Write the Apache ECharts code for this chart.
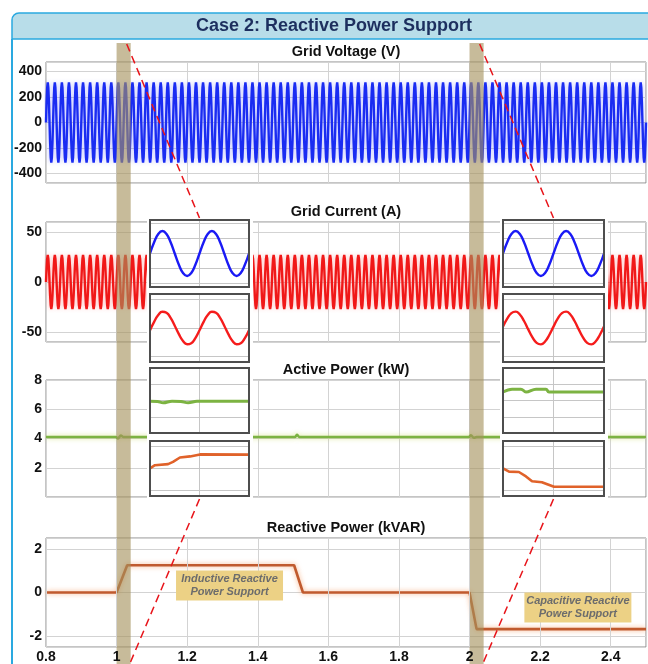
<!DOCTYPE html>
<html>
<head>
<meta charset="utf-8">
<title>Case 2: Reactive Power Support</title>
<script src="https://cdn.jsdelivr.net/npm/echarts@6/dist/echarts.min.js"></script>
<style>
  html, body { margin: 0; padding: 0; background: #fff; }
  #chart { width: 648px; height: 664px; }
</style>
</head>
<body>
<div id="chart"></div>
<script>
// ---------------- data ----------------
const timeRange = [0.8, 2.5];                 // s
const timeStep = 0.2;
const timeTicks = [0.8, 1, 1.2, 1.4, 1.6, 1.8, 2, 2.2, 2.4];

const voltageTicks = [400, 200, 0, -200, -400];
const currentTicks = [50, 0, -50];
const activeTicks = [8, 6, 4, 2];
const reactiveTicks = [2, 0, -2];

const gridFrequency = 50;                     // Hz
// one grid cycle, 12 samples (30 degree steps)
const voltageCycle = [0, 158, 273, 315, 273, 158, 0, -158, -273, -315, -273, -158];   // V
const currentCycle = [0, 13.5, 23.4, 27, 23.4, 13.5, 0, -13.5, -23.4, -27, -23.4, -13.5]; // A
const insetVoltageCycle = [0, 151, 262, 302, 262, 151, 0, -151, -262, -302, -262, -151];
const insetCurrentCycleInductive = [-4.0, 10.9, 22.9, 28.7, 26.9, 17.9, 4.0, -10.9, -22.9, -28.7, -26.9, -17.9];
const insetCurrentCycleCapacitive = [2.5, 16.6, 26.3, 28.9, 23.8, 12.3, -2.5, -16.6, -26.3, -28.9, -23.8, -12.3];

const activeTime  = [0.8, 0.998, 1.004, 1.012, 1.02, 1.505, 1.511, 1.518, 1.998, 2.004, 2.012, 2.02, 2.5];
const activePower = [4.1, 4.1, 4.0, 4.2, 4.1, 4.1, 4.25, 4.1, 4.1, 4.22, 4.05, 4.1, 4.1];      // kW

const reactiveTime  = [0.8, 1.0, 1.03, 1.503, 1.528, 2.0, 2.02, 2.5];
const reactivePower = [0, 0, 1.25, 1.25, 0, 0, -1.68, -1.68];                                  // kVAR

// zoomed windows (two grid cycles each)
const zoomWindows = [[1.0, 1.04], [2.0, 2.04]];

const insetActiveTimeL  = [1.0, 1.003, 1.0053, 1.0089, 1.0125, 1.0154, 1.019, 1.04];
const insetActivePowerL = [3.9, 3.88, 3.72, 3.92, 3.88, 3.72, 3.9, 3.9];
const insetActiveTimeR  = [2.0, 2.0036, 2.0071, 2.0091, 2.0131, 2.017, 2.0182, 2.04];
const insetActivePowerR = [5.05, 5.4, 5.4, 5.05, 5.4, 5.4, 5.05, 5.05];

const insetReactiveTimeL  = [1.0, 1.002, 1.0073, 1.0093, 1.0121, 1.0162, 1.0202, 1.04];
const insetReactivePowerL = [0.02, 0.3, 0.4, 0.6, 1.0, 1.1, 1.28, 1.26];
const insetReactiveTimeR  = [2.0, 2.0024, 2.0063, 2.0091, 2.0115, 2.0154, 2.0202, 2.04];
const insetReactivePowerR = [0.02, -0.28, -0.32, -0.72, -1.16, -1.25, -1.66, -1.66];

const panelTitles = ['Grid Voltage (V)', 'Grid Current (A)', 'Active Power (kW)', 'Reactive Power (kVAR)'];
const mainTitle = 'Case 2: Reactive Power Support';
const noteTexts = ['Inductive Reactive\nPower Support', 'Capacitive Reactive\nPower Support'];

// ---------------- layout & style ----------------
const FONT = '"Liberation Sans", Arial, Helvetica, sans-serif';
const PLOT_LEFT = 46, PLOT_WIDTH = 600;
const mainRows = [
  { top: 62, height: 121 },
  { top: 222, height: 120 },
  { top: 380, height: 117 },
  { top: 538, height: 109 }
];
const insetCols = [{ left: 150, width: 99 }, { left: 503, width: 101 }];
const insetRows = [
  { top: 220, height: 67 },
  { top: 294, height: 68 },
  { top: 368, height: 65 },
  { top: 441, height: 55 }
];
const coverCols = [{ x: 147, w: 106 }, { x: 500, w: 108 }];
const coverTop = 217, coverBottom = 500;
const noteAnchors = [[1.32, 0.32], [2.307, -0.69]];   // centre of note boxes, reactive-power axes
const NOTE_W = 107, NOTE_H = 30;

// ---------------- helpers ----------------
function tileCycle(cycle, t0, t1) {
  const dt = 1 / gridFrequency / cycle.length;
  const n = Math.round((t1 - t0) / dt);
  const out = [];
  for (let k = 0; k <= n; k++) out.push([t0 + k * dt, cycle[k % cycle.length]]);
  return out;
}
const pairs = (ts, vs) => ts.map((t, i) => [t, vs[i]]);
const isTick = (list, v) => list.some(l => Math.abs(l - v) < 1e-6);

// ---------------- grids / axes ----------------
const grids = [], xAxes = [], yAxes = [], series = [];

mainRows.forEach((r, i) => {
  grids.push({
    left: PLOT_LEFT, width: PLOT_WIDTH, top: r.top, height: r.height,
    show: true, borderColor: '#8a8a8a', borderWidth: 1, backgroundColor: 'transparent',
    containLabel: false, outerBoundsMode: 'none'
  });
  xAxes.push({
    gridIndex: i, type: 'value', min: timeRange[0], max: timeRange[1], interval: timeStep,
    z: i === 3 ? 31 : 0,
    axisLine: { show: false }, axisTick: { show: false },
    splitLine: { show: true, lineStyle: { color: '#d3d3d3', width: 1 } },
    axisLabel: {
      show: i === 3, margin: 3, color: '#111', fontWeight: 'bold', fontSize: 14, fontFamily: FONT,
      formatter: v => isTick(timeTicks, v) ? String(+v.toFixed(1)) : ''
    }
  });
});

const yLabelsByRow = [voltageTicks, currentTicks, activeTicks, reactiveTicks];
const yScale = [
  { min: -475, max: 475, splitNumber: 5 },
  { min: -60, max: 60, splitNumber: 2 },
  { min: 0, max: 8, interval: 2 },
  { min: -2.5, max: 2.5, splitNumber: 3 }
];
yScale.forEach((s, i) => {
  yAxes.push(Object.assign({
    gridIndex: i, type: 'value',
    axisLine: { show: false }, axisTick: { show: false },
    splitLine: { show: true, lineStyle: { color: '#d3d3d3', width: 1 } },
    axisLabel: {
      margin: 4, color: '#111', fontWeight: 'bold', fontSize: 14, fontFamily: FONT,
      formatter: v => isTick(yLabelsByRow[i], v) ? String(v) : ''
    }
  }, s));
});

// main traces
series.push({
  name: 'Grid Voltage', type: 'line', xAxisIndex: 0, yAxisIndex: 0, z: 2,
  data: tileCycle(voltageCycle, timeRange[0], timeRange[1]),
  symbol: 'none', silent: true,
  lineStyle: { color: '#1a2cf2', width: 2.4, shadowColor: 'rgba(60,70,255,0.3)', shadowBlur: 4 }
});
series.push({
  name: 'Grid Current', type: 'line', xAxisIndex: 1, yAxisIndex: 1, z: 2,
  data: tileCycle(currentCycle, timeRange[0], timeRange[1]),
  symbol: 'none', silent: true,
  lineStyle: { color: '#f01818', width: 2.4, shadowColor: 'rgba(255,60,60,0.3)', shadowBlur: 4 }
});
series.push({
  name: 'Active Power', type: 'line', xAxisIndex: 2, yAxisIndex: 2, z: 2,
  data: pairs(activeTime, activePower), symbol: 'none', silent: true, smooth: 0.3,
  lineStyle: { color: '#7cb342', width: 2.6, shadowColor: 'rgba(200,220,90,0.7)', shadowBlur: 5 }
});
series.push({
  name: 'Reactive Power', type: 'line', xAxisIndex: 3, yAxisIndex: 3, z: 2,
  data: pairs(reactiveTime, reactivePower), symbol: 'none', silent: true,
  lineStyle: { color: '#c05a2e', width: 2.6, shadowColor: 'rgba(245,150,90,0.75)', shadowBlur: 5 }
});

// zoomed insets
const insetSpecs = [
  { yMin: -450, yMax: 450, split: { splitNumber: 5 } },
  { yMin: -60, yMax: 60, split: { splitNumber: 2 } },
  { yMin: 0, yMax: 8, split: { interval: 2 } },
  { yMin: -2.5, yMax: 2.5, split: { splitNumber: 3 } }
];
const insetData = [
  [
    tileCycle(insetVoltageCycle, zoomWindows[0][0], zoomWindows[0][1]),
    tileCycle(insetCurrentCycleInductive, zoomWindows[0][0], zoomWindows[0][1]),
    pairs(insetActiveTimeL, insetActivePowerL),
    pairs(insetReactiveTimeL, insetReactivePowerL)
  ],
  [
    tileCycle(insetVoltageCycle, zoomWindows[1][0], zoomWindows[1][1]),
    tileCycle(insetCurrentCycleCapacitive, zoomWindows[1][0], zoomWindows[1][1]),
    pairs(insetActiveTimeR, insetActivePowerR),
    pairs(insetReactiveTimeR, insetReactivePowerR)
  ]
];
const insetLine = [
  { color: '#1a1af5', width: 2.4, smooth: true },
  { color: '#f51c1c', width: 2.4, smooth: true },
  { color: '#7cb342', width: 3, smooth: 0.4 },
  { color: '#e0622a', width: 2.6, smooth: false }
];

insetCols.forEach((c, ci) => {
  insetRows.forEach((r, ri) => {
    const gi = grids.length;
    grids.push({
      left: c.left, width: c.width, top: r.top, height: r.height,
      show: true, backgroundColor: '#fff', borderWidth: 0, z: 21,
      containLabel: false, outerBoundsMode: 'none'
    });
    xAxes.push({
      gridIndex: gi, type: 'value', min: zoomWindows[ci][0], max: zoomWindows[ci][1], interval: 0.02, z: 22,
      axisLine: { show: false }, axisTick: { show: false }, axisLabel: { show: false },
      splitLine: { show: true, lineStyle: { color: '#c6c6c6', width: 1 } }
    });
    yAxes.push(Object.assign({
      gridIndex: gi, type: 'value', min: insetSpecs[ri].yMin, max: insetSpecs[ri].yMax, z: 22,
      axisLine: { show: false }, axisTick: { show: false }, axisLabel: { show: false },
      splitLine: { show: true, lineStyle: { color: '#c6c6c6', width: 1 } }
    }, insetSpecs[ri].split));
    series.push({
      type: 'line', xAxisIndex: gi, yAxisIndex: gi, z: 23,
      data: insetData[ci][ri], symbol: 'none', silent: true, smooth: insetLine[ri].smooth,
      lineStyle: { color: insetLine[ri].color, width: insetLine[ri].width }
    });
  });
});

// ---------------- render ----------------
const chart = echarts.init(document.getElementById('chart'), null, { renderer: 'canvas' });
chart.setOption({
  animation: false,
  backgroundColor: '#ffffff',
  textStyle: { fontFamily: FONT },
  grid: grids, xAxis: xAxes, yAxis: yAxes, series: series
});

// ---------------- overlays ----------------
const tx = t => chart.convertToPixel({ xAxisIndex: 0 }, t);
const elements = [];

// page frame and heading
elements.push({
  type: 'line', z: 50, silent: true,
  shape: { x1: 12, y1: 39, x2: 12, y2: 664 },
  style: { stroke: '#2aa9e0', lineWidth: 2 }
});
elements.push({
  type: 'rect', z: 50, silent: true,
  shape: { x: 12, y: 13, width: 660, height: 26, r: [7, 0, 0, 0] },
  style: { fill: '#b8dde9', stroke: '#2aa9e0', lineWidth: 1.5 }
});
elements.push({
  type: 'text', z: 51, silent: true,
  style: {
    text: mainTitle, x: 334, y: 26.5, fill: '#1d2f5f',
    font: 'bold 18px ' + FONT,
    textAlign: 'center', textVerticalAlign: 'middle', align: 'center', verticalAlign: 'middle'
  }
});

// panel titles
mainRows.forEach((r, i) => {
  elements.push({
    type: 'text', z: 51, silent: true,
    style: {
      text: panelTitles[i], x: PLOT_LEFT + PLOT_WIDTH / 2, y: r.top - 10.5, fill: '#111',
      font: 'bold 14.5px ' + FONT,
      textAlign: 'center', textVerticalAlign: 'middle', align: 'center', verticalAlign: 'middle'
    }
  });
});

// white backing behind the zoomed insets
coverCols.forEach(c => {
  elements.push({
    type: 'rect', z: 20, silent: true,
    shape: { x: c.x, y: coverTop, width: c.w, height: coverBottom - coverTop },
    style: { fill: '#ffffff' }
  });
});

// inset frames
insetCols.forEach(c => {
  insetRows.forEach(r => {
    elements.push({
      type: 'rect', z: 24, silent: true,
      shape: { x: c.left, y: r.top, width: c.width, height: r.height },
      style: { fill: null, stroke: '#4e4e4e', lineWidth: 2 }
    });
  });
});

// highlighted windows and dashed connectors to the insets
zoomWindows.forEach((w, i) => {
  const x0 = tx(w[0]), x1 = tx(w[1]);
  elements.push({
    type: 'rect', z: 30, silent: true,
    shape: { x: x0, y: 43, width: x1 - x0, height: 664 - 43 },
    style: { fill: 'rgba(165,146,92,0.62)' }
  });
  const cx = insetCols[i].left + insetCols[i].width / 2;
  const topY = insetRows[0].top;
  const botY = insetRows[3].top + insetRows[3].height + 3;
  elements.push({
    type: 'line', z: 40, silent: true,
    shape: { x1: x1 - 4, y1: 44, x2: cx, y2: topY - 2 },
    style: { stroke: '#e8141a', lineWidth: 1.5, lineDash: [8, 5] }
  });
  elements.push({
    type: 'line', z: 40, silent: true,
    shape: { x1: cx, y1: botY, x2: x1 - 1, y2: 664 },
    style: { stroke: '#e8141a', lineWidth: 1.5, lineDash: [8, 5] }
  });
});

// notes on the reactive power panel
noteAnchors.forEach((a, i) => {
  const p = chart.convertToPixel({ gridIndex: 3 }, a);
  elements.push({
    type: 'rect', z: 45, silent: true,
    shape: { x: p[0] - NOTE_W / 2, y: p[1] - NOTE_H / 2, width: NOTE_W, height: NOTE_H },
    style: { fill: '#ecd185' }
  });
  elements.push({
    type: 'text', z: 46, silent: true,
    style: {
      text: noteTexts[i], x: p[0], y: p[1], fill: '#6c6c6c',
      font: 'italic bold 11px ' + FONT, lineHeight: 13,
      textAlign: 'center', textVerticalAlign: 'middle', align: 'center', verticalAlign: 'middle'
    }
  });
});

chart.setOption({ graphic: { elements: elements } });
</script>
</body>
</html>
